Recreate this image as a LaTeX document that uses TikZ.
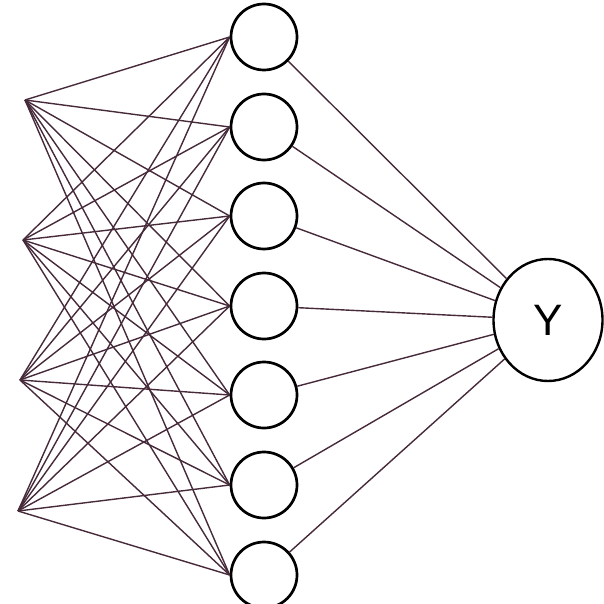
\documentclass[tikz,border=0pt]{standalone}
\usepackage{fontspec}
\setmainfont{Liberation Sans}
\usetikzlibrary{shapes.geometric}
\definecolor{wire}{RGB}{70,42,58}
\begin{document}
\begin{tikzpicture}[x=1pt,y=-1pt,
  hidden/.style={circle,draw=black,line width=2.7pt,minimum size=66pt,inner sep=0pt},
  outnode/.style={ellipse,draw=black,line width=2.4pt,minimum width=109pt,minimum height=122pt,inner sep=0pt,font=\fontsize{44}{44}\selectfont},
  wireline/.style={draw=wire,line width=1.4pt}]
\useasboundingbox (0,0) rectangle (603,604);
\coordinate (i1) at (25,100);
\coordinate (i2) at (23,240);
\coordinate (i3) at (20,380);
\coordinate (i4) at (18,511);
\node[hidden] (h1) at (264,37) {};
\node[hidden] (h2) at (264,127) {};
\node[hidden] (h3) at (264,216) {};
\node[hidden] (h4) at (264,306) {};
\node[hidden] (h5) at (264,395) {};
\node[hidden] (h6) at (264,485) {};
\node[hidden] (h7) at (264,575) {};
\node[outnode] (y) at (548,320) {Y};
\foreach \i in {1,2,3,4}{
  \foreach \h in {1,...,7}{
    \draw[wireline] (i\i) -- (h\h.west);
  }
}
\foreach \h in {1,...,7}{
  \draw[wireline] (h\h) -- (y);
}
\end{tikzpicture}
\end{document}
